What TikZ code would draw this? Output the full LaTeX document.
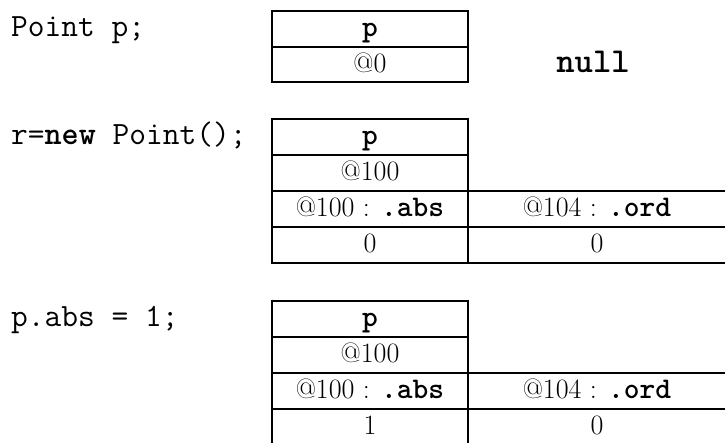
\documentclass[tikz,border=0pt]{standalone}
\usepackage{fontspec}
\newcommand{\mb}[1]{{\ttfamily\bfseries #1}}
\tikzset{
  thk/.style={line width=2.8pt},
  thn/.style={line width=2pt},
  cell/.style={anchor=base, inner sep=0pt, font=\fontsize{28}{30}\selectfont},
  mfont/.style={font=\ttfamily\fontsize{32.5}{34}\selectfont},
  code/.style={anchor=base west, inner sep=0pt, mfont}
}
\begin{document}
\begin{tikzpicture}[x=1pt,y=-1pt]
\useasboundingbox (0,0) rectangle (725,442);
\clip (0,0) rectangle (725,442);
\fill[white] (0,0) rectangle (725,442);

% statement 1
\node[code] (c1) at (11,36) {Point p;};
\draw[thk] (272,11) rectangle (468,82);
\draw[thk] (272,47) -- (468,47);
\node[cell] (t1p) at (370,36) {{\fontsize{30}{30}\selectfont\mb{p}}};
\node[cell] (t1a) at (370,72) {@0};
\node[anchor=base, inner sep=0pt, font=\ttfamily\fontsize{35}{36}\selectfont] (null) at (593,72) {\mb{null}};

% statement 2
\node[code] (c2) at (11,144) {r=\textbf{new} Point();};
% statement 3
\node[code] (c3) at (11,326) {p.abs = 1;};

\foreach \T/\v/\n in {119/0/2, 301/1/3}{
  \draw[thk] (272,\T) -- (468,\T);
  \draw[thn] (272,\T+36) -- (468,\T+36);
  \draw[thk] (272,\T+72) -- (725,\T+72);
  \draw[thn] (272,\T+108) -- (725,\T+108);
  \draw[thk] (272,\T+144) -- (725,\T+144);
  \draw[thk] (272,\T-1.4) -- (272,\T+145.4);
  \draw[thk] (468,\T-1.4) -- (468,\T+145.4);
  \node[cell] (p\n) at (370,\T+25) {{\fontsize{30}{30}\selectfont\mb{p}}};
  \node[cell] (a\n) at (370,\T+61) {@100};
  \node[cell] (abs\n) at (370,\T+97) {@100 : {\fontsize{30}{30}\selectfont\mb{.abs}}};
  \node[cell] (ord\n) at (597,\T+97) {@104 : {\fontsize{30}{30}\selectfont\mb{.ord}}};
  \node[cell] (va\n) at (370,\T+133) {\v};
  \node[cell] (vo\n) at (597,\T+133) {0};
}
\end{tikzpicture}
\end{document}
